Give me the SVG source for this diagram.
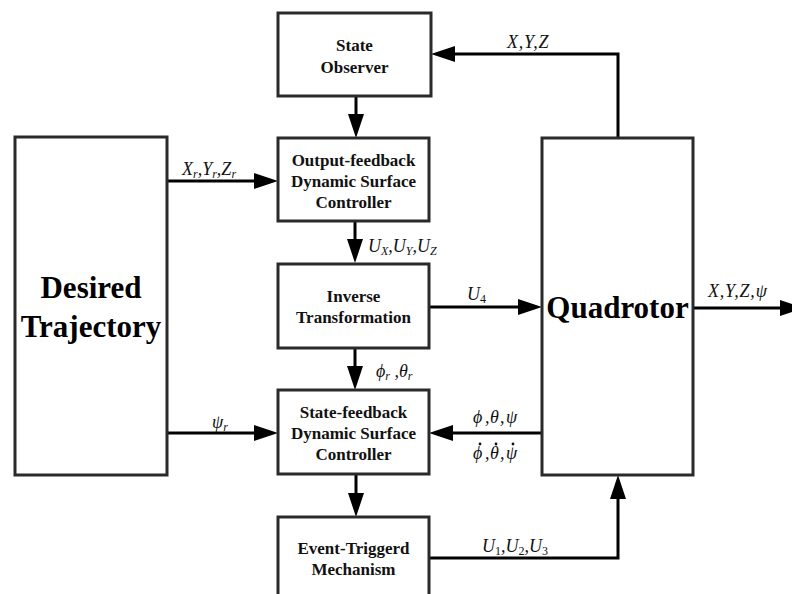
<svg xmlns="http://www.w3.org/2000/svg" width="792" height="594" viewBox="0 0 792 594">
<defs>
<marker id="arr" markerUnits="userSpaceOnUse" markerWidth="24" markerHeight="16" refX="12" refY="8" orient="auto" overflow="visible">
<path d="M0,0 L24,8 L0,16 z" fill="#000"/>
</marker>
<style>
.box{fill:#fff;stroke:#2a2a2a;stroke-width:3}
.t{font-family:"Liberation Serif","Times New Roman",serif;font-weight:bold;font-size:17px;text-anchor:middle;fill:#111}
.big{font-family:"Liberation Serif","Times New Roman",serif;font-weight:bold;font-size:31px;text-anchor:middle;fill:#000}
.lb{font-family:"Liberation Serif","Times New Roman",serif;font-style:italic;font-size:18px;fill:#111}
.sp{letter-spacing:0.8px}
.sub{font-size:12px}
.up{font-style:normal}
.dot{fill:#111}
.ln{fill:none;stroke:#000;stroke-width:3}
.a{marker-end:url(#arr)}
</style>
</defs>
<rect width="792" height="594" fill="#fff"/>

<g id="connectors">
<path class="ln a" d="M618,138 V54 H443"/>
<path class="ln a" d="M356,96 V126"/>
<path class="ln a" d="M167,181 H266"/>
<path class="ln a" d="M355,221 V251"/>
<path class="ln a" d="M429,307 H530"/>
<path class="ln a" d="M355,348 V378"/>
<path class="ln a" d="M167,433 H266"/>
<path class="ln a" d="M542,433 H441"/>
<path class="ln a" d="M356,474 V505"/>
<path class="ln a" d="M430,558 H618 V487"/>
<path class="ln a" d="M693,308 H792"/>
</g>

<g id="labels">
<text class="lb sp" x="507" y="48">X,Y,Z</text>
<text class="lb" x="182" y="175">X<tspan class="sub" dy="3">r</tspan><tspan dy="-3">,Y</tspan><tspan class="sub" dy="3">r</tspan><tspan dy="-3">,Z</tspan><tspan class="sub" dy="3">r</tspan></text>
<text class="lb" x="368" y="252">U<tspan class="sub" dy="3">X</tspan><tspan dy="-3">,U</tspan><tspan class="sub" dy="3">Y</tspan><tspan dy="-3">,U</tspan><tspan class="sub" dy="3">Z</tspan></text>
<text class="lb" x="467" y="300">U<tspan class="sub up" dy="3">4</tspan></text>
<text class="lb" x="376" y="377">ϕ<tspan class="sub" dy="3">r</tspan><tspan dy="-3"> ,θ</tspan><tspan class="sub" dy="3">r</tspan></text>
<text class="lb" x="212" y="428">ψ<tspan class="sub" dy="3">r</tspan></text>
<text class="lb" y="423"><tspan x="473">ϕ</tspan><tspan x="485">,</tspan><tspan x="490">θ</tspan><tspan x="500">,</tspan><tspan x="506">ψ</tspan></text>
<text class="lb" y="459"><tspan x="473">ϕ</tspan><tspan x="485">,</tspan><tspan x="490">θ</tspan><tspan x="500">,</tspan><tspan x="506">ψ</tspan></text>
<circle class="dot" cx="480" cy="444" r="1.4"/>
<circle class="dot" cx="496" cy="444" r="1.4"/>
<circle class="dot" cx="513" cy="444" r="1.4"/>
<text class="lb" x="482" y="552">U<tspan class="sub up" dy="3">1</tspan><tspan dy="-3">,U</tspan><tspan class="sub up" dy="3">2</tspan><tspan dy="-3">,U</tspan><tspan class="sub up" dy="3">3</tspan></text>
<text class="lb sp" x="708" y="297">X,Y,Z,ψ</text>
</g>

<g id="state-observer">
<rect class="box" x="278" y="13" width="153" height="83"/>
<text class="t" x="354.5" y="51">State</text>
<text class="t" x="354.5" y="73">Observer</text>
</g>

<g id="output-feedback">
<rect class="box" x="278" y="138" width="151" height="83"/>
<text class="t" x="353.5" y="166">Output-feedback</text>
<text class="t" x="353.5" y="187">Dynamic Surface</text>
<text class="t" x="353.5" y="208">Controller</text>
</g>

<g id="desired-trajectory">
<rect class="box" x="15" y="137" width="152" height="338"/>
<text class="big" x="91" y="298">Desired</text>
<text class="big" x="91" y="337">Trajectory</text>
</g>

<g id="inverse-transformation">
<rect class="box" x="278" y="264" width="151" height="84"/>
<text class="t" x="353.5" y="302">Inverse</text>
<text class="t" x="353.5" y="323">Transformation</text>
</g>

<g id="state-feedback">
<rect class="box" x="278" y="390" width="151" height="84"/>
<text class="t" x="353.5" y="418">State-feedback</text>
<text class="t" x="353.5" y="439">Dynamic Surface</text>
<text class="t" x="353.5" y="460">Controller</text>
</g>

<g id="event-triggered">
<rect class="box" x="278" y="517" width="151" height="90"/>
<text class="t" x="353.5" y="554">Event-Triggerd</text>
<text class="t" x="353.5" y="575">Mechanism</text>
</g>

<g id="quadrotor">
<rect class="box" x="542" y="138" width="151" height="337"/>
<text class="big" x="617.5" y="318">Quadrotor</text>
</g>
</svg>
